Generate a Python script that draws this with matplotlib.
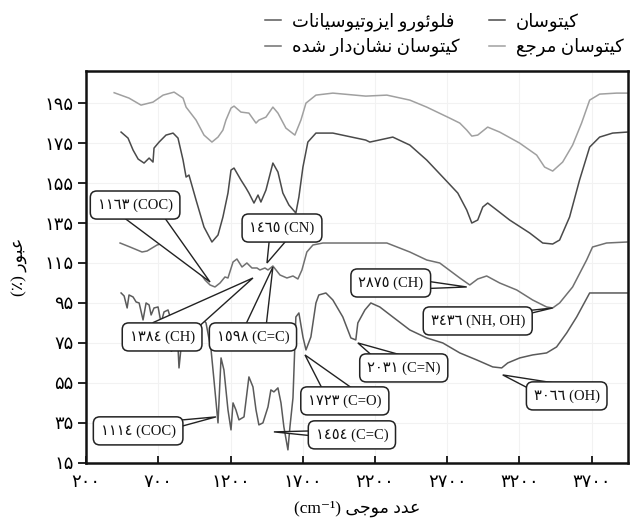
import matplotlib
matplotlib.use("Agg")
import matplotlib.pyplot as plt
import numpy as np
from matplotlib.patches import Polygon

plt.rcParams['font.family'] = ['Liberation Serif', 'DejaVu Sans']

# FT-IR spectra: wavenumber (cm-1), transmittance (%)
REF_X = [394, 497, 580, 663, 733, 809, 871, 892, 961, 1016, 1071, 1113, 1147, 1168, 1203, 1224,
         1272, 1327, 1376, 1396, 1445, 1493, 1528, 1583, 1645, 1687, 1722, 1791, 1908, 2136, 2282,
         2441, 2558, 2717, 2787, 2835, 2870, 2911, 2980, 3063, 3201, 3319, 3374, 3430, 3499, 3568,
         3630, 3686, 3755, 3872, 3945]
REF_Y = [200.2, 197.5, 194, 195.5, 199, 200.5, 197.5, 193, 186.5, 179, 175.5, 178, 181.5, 186.5,
         192.5, 193.5, 190.5, 190, 185, 186.5, 188, 193, 190, 182.5, 179, 186.5, 195, 199, 200,
         198.5, 199, 196.5, 193, 187.5, 185, 181.5, 178.5, 179, 183, 180.5, 175, 169, 163, 161,
         165.5, 174, 185, 196.5, 199.5, 200, 200]

CHI_X = [442, 490, 525, 560, 601, 636, 663, 670, 705, 753, 802, 836, 871, 892, 912, 961, 1016,
         1071, 1113, 1147, 1182, 1203, 1224, 1272, 1307, 1327, 1362, 1390, 1410, 1445, 1493, 1528,
         1562, 1604, 1652, 1673, 1701, 1735, 1791, 1908, 2136, 2164, 2323, 2441, 2558, 2669, 2773,
         2835, 2870, 2911, 2946, 2980, 3043, 3132, 3271, 3361, 3430, 3478, 3547, 3616, 3686, 3755,
         3845, 3945]
CHI_Y = [180.5, 177.5, 171.5, 167, 165, 167.5, 165.5, 172.5, 175.5, 179, 180, 177.5, 166.5, 158,
         159, 146.5, 133, 125.5, 129, 138, 150, 161.5, 162.5, 156.5, 152.5, 150, 145, 149, 145.5,
         151.5, 165, 160.5, 150, 144, 140, 148, 163, 175.5, 180, 180, 176.5, 175.5, 178, 174,
         166.5, 158, 150, 141.5, 135, 136.5, 143, 145, 141.5, 136.5, 130, 125, 124.5, 126.5, 138,
         156.5, 173, 178, 180, 180.5]

LAB_X = [435, 504, 587, 622, 691, 760, 850, 919, 975, 1023, 1058, 1092, 1127, 1161, 1182, 1217,
         1244, 1279, 1313, 1348, 1383, 1403, 1438, 1459, 1493, 1542, 1590, 1632, 1666, 1694, 1728,
         1770, 1839, 2095, 2282, 2441, 2558, 2648, 2787, 2856, 2911, 2973, 3063, 3181, 3291, 3388,
         3430, 3478, 3568, 3665, 3706, 3803, 3945]
LAB_Y = [125, 123, 120.5, 121, 124, 125.5, 124, 118, 111.5, 106.5, 104, 103, 105, 108, 107.5,
         115.5, 117, 113, 115, 112.5, 112.5, 111.5, 112.5, 111.5, 113.5, 109, 107.5, 108.5, 107,
         111.5, 120.5, 124, 125, 125, 125, 120.5, 116.5, 115, 107.5, 104, 107, 108.5, 105, 101.5,
         96.5, 93, 92.5, 95, 103, 116.5, 123, 125, 125.5]

FITC_X = [442, 463, 484, 497, 525, 546, 567, 594, 615, 636, 650, 670, 698, 719, 739, 767, 788,
          809, 836, 843, 857, 892, 961, 995, 1030, 1065, 1085, 1113, 1134, 1154, 1182, 1203, 1217,
          1237, 1258, 1293, 1327, 1355, 1376, 1396, 1424, 1459, 1479, 1500, 1528, 1549, 1569, 1597,
          1611, 1632, 1639, 1652, 1673, 1701, 1722, 1756, 1791, 1811, 1860, 1908, 1977, 2033, 2067,
          2081, 2130, 2171, 2233, 2323, 2441, 2558, 2669, 2787, 2904, 3015, 3077, 3119, 3202, 3291,
          3388, 3457, 3527, 3596, 3686, 3755, 3945]
FITC_Y = [100, 98.5, 92.5, 99, 98, 95.5, 95, 86.5, 95, 94, 89, 92.5, 93, 85, 90.5, 91.5, 86.5,
          78, 73, 62.5, 72.5, 83, 85.5, 88, 85, 71.5, 56.5, 35, 67.5, 61.5, 41.5, 31.5, 45, 41.5,
          36.5, 38, 58, 53, 41.5, 34, 35, 43, 51.5, 50.5, 52.5, 45, 33, 21.5, 33, 47.5, 61.5, 88,
          90, 78, 71.5, 78, 95, 99, 100, 96.5, 88, 77.5, 76.5, 85, 91.5, 95, 93, 88, 81.5, 77.5,
          75, 70, 66.5, 63, 62.5, 65, 67.5, 69, 70, 73, 80, 88, 100, 100, 100]

SERIES_NAMES = ["فلوئورو ایزوتیوسیانات", "کیتوسان نشان\u200cدار شده", "کیتوسان", "کیتوسان مرجع"]
SERIES_COLORS = ["#5a5a5a", "#707070", "#4a4a4a", "#a0a0a0"]

# callouts: label, tip (x, y), box centre (x, y)
ANN_TEXT = ["١١٦٣ (COC)", "١٤٦٥ (CN)", "١٣٨٤ (CH)", "١٥٩٨ (C=C)", "١١١٤ (COC)", "١٤٥٤ (C=C)",
            "١٧٢٣ (C=O)", "٢٠٣١ (C=N)", "٢٨٧٥ (CH)", "٣٤٣٦ (NH, OH)", "٣٠٦٦ (OH)"]
ANN_TIP = [(1058, 105.5), (1452, 115), (1355, 107.5), (1493, 113), (1099, 38), (1500, 30.5),
           (1715, 69), (2081, 75), (2835, 103), (3430, 92.5), (3084, 59)]
ANN_BOX = [(539, 144), (1556, 132.5), (726, 78), (1355, 78), (560, 31), (2040, 29),
           (1991, 46), (2399, 62.5), (2309, 105), (2911, 86), (3527, 48.5)]
ANN_BASE = [34, 24, 34, 24, 14, 10, 30, 24, 14, 10, 22]   # callout base width, px

XTICKS = [200, 700, 1200, 1700, 2200, 2700, 3200, 3700]
YTICKS = [15, 35, 55, 75, 95, 115, 135, 155, 175, 195]
XLABEL = "عدد موجی"
YLABEL = "عبور"

# --- minimal Persian shaping (matplotlib has no bidi / joining support) ---
FORMS = {  # isolated, final, initial, medial
    "\u0627": ("\uFE8D", "\uFE8E", None, None),
    "\u0628": ("\uFE8F", "\uFE90", "\uFE91", "\uFE92"),
    "\u062A": ("\uFE95", "\uFE96", "\uFE97", "\uFE98"),
    "\u062C": ("\uFE9D", "\uFE9E", "\uFE9F", "\uFEA0"),
    "\u062F": ("\uFEA9", "\uFEAA", None, None),
    "\u0631": ("\uFEAD", "\uFEAE", None, None),
    "\u0632": ("\uFEAF", "\uFEB0", None, None),
    "\u0633": ("\uFEB1", "\uFEB2", "\uFEB3", "\uFEB4"),
    "\u0634": ("\uFEB5", "\uFEB6", "\uFEB7", "\uFEB8"),
    "\u0639": ("\uFEC9", "\uFECA", "\uFECB", "\uFECC"),
    "\u0641": ("\uFED1", "\uFED2", "\uFED3", "\uFED4"),
    "\u0644": ("\uFEDD", "\uFEDE", "\uFEDF", "\uFEE0"),
    "\u0645": ("\uFEE1", "\uFEE2", "\uFEE3", "\uFEE4"),
    "\u0646": ("\uFEE5", "\uFEE6", "\uFEE7", "\uFEE8"),
    "\u0647": ("\uFEE9", "\uFEEA", "\uFEEB", "\uFEEC"),
    "\u0648": ("\uFEED", "\uFEEE", None, None),
    "\u0626": ("\uFE89", "\uFE8A", "\uFE8B", "\uFE8C"),
    "\u06A9": ("\uFB8E", "\uFB8F", "\uFB90", "\uFB91"),
    "\u06CC": ("\uFBFC", "\uFBFD", "\uFBFE", "\uFBFF"),
}


def fa(s):
    out = []
    for i, c in enumerate(s):
        if c not in FORMS:
            out.append(c)
            continue
        prev = s[i - 1] if i > 0 else None
        nxt = s[i + 1] if i + 1 < len(s) else None
        jp = prev in FORMS and FORMS[prev][2] is not None
        jn = FORMS[c][2] is not None and nxt in FORMS
        iso, fin, ini, med = FORMS[c]
        out.append(med if jp and jn else fin if jp else ini if jn else iso)
    return "".join(out).replace("\u200c", "")[::-1]


def fa_num(n):
    return str(n).translate(str.maketrans("0123456789", "۰۱۲۳۴۵۶۷۸۹"))


fig = plt.figure(figsize=(6.38, 5.23), dpi=100)
ax = fig.add_axes([0.135, 0.115, 0.849, 0.749])

series = [(FITC_X, FITC_Y), (LAB_X, LAB_Y), (CHI_X, CHI_Y), (REF_X, REF_Y)]
handles = []
for (xs, ys), col in zip(series, SERIES_COLORS):
    h, = ax.plot(xs, ys, color=col, lw=1.1)
    handles.append(h)

ax.set_xlim(200, 3950)
ax.set_ylim(15, 211)

# Word-style callouts: white wedge from the box towards the peak, box drawn on top
T = ax.transData
for txt, tip, box, w in zip(ANN_TEXT, ANN_TIP, ANN_BOX, ANN_BASE):
    pt, pb = T.transform(tip), T.transform(box)
    d = (pt - pb) / np.hypot(*(pt - pb))
    n = np.array([-d[1], d[0]]) * w / 2
    verts = T.inverted().transform([pb + n, pt, pb - n])
    ax.add_patch(Polygon(verts, closed=True, fc="white", ec="#222", lw=1.0, zorder=4))
    ax.text(box[0], box[1], txt, ha="center", va="center", fontsize=10.5, color="#111", zorder=5,
            bbox=dict(boxstyle="round,pad=0.5,rounding_size=0.45", fc="white", ec="#222", lw=1.1))

ax.set_xticks(XTICKS)
ax.set_xticklabels([fa_num(v) for v in XTICKS], fontsize=13)
ax.set_yticks(YTICKS)
ax.set_yticklabels([fa_num(v) for v in YTICKS], fontsize=13)
ax.tick_params(axis="x", direction="in", length=5, width=1.2, pad=8)
ax.tick_params(axis="y", direction="out", length=6, width=1.2, pad=3)
ax.grid(color="#f2f2f2", lw=0.8)
ax.set_axisbelow(True)
for s in ax.spines.values():
    s.set_linewidth(1.8)
    s.set_color("#111")

ax.set_xlabel("(cm\u207b\u00b9) " + fa(XLABEL), fontsize=12.5, labelpad=7)
ax.set_ylabel("(\u066a) " + fa(YLABEL), fontsize=12.5, labelpad=12)

fig.legend(handles, [fa(n) for n in SERIES_NAMES], ncol=2, loc="upper left",
           bbox_to_anchor=(0.39, 1.008), frameon=False, fontsize=13, handlelength=0.9,
           handletextpad=0.6, columnspacing=1.6, labelspacing=0.4)

fig.savefig("out.png", dpi=100, facecolor="white")
